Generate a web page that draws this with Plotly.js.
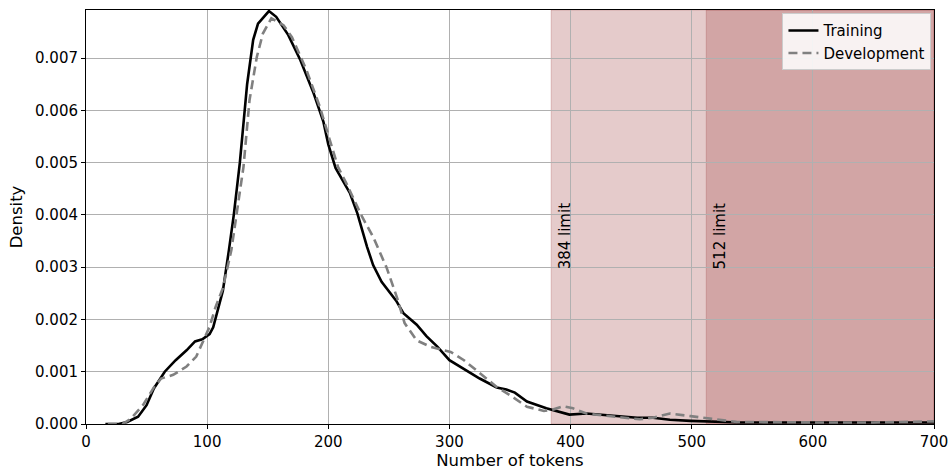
<!DOCTYPE html>
<html>
<head>
<meta charset="utf-8">
<script src="https://cdn.plot.ly/plotly-3.0.1.min.js"></script>
<style>html,body{margin:0;padding:0;background:#fff;}#chart{width:949px;height:471px;}</style>
</head>
<body>
<div id="chart"></div>
<script>
const trainTokens = [16,27,34,43,50,56,65,74,83,90,96,102,105,113,118,122,127,133,138,142,151,157,167,177,188,196,200,206,218,224,232,237,244,256,262,273,281,290,300,311,325,339,347,354,364,380,399,413,441,455,468,482,499,520,540,600,650,700];
const trainDensity = [0,0,0.00004,0.00014,0.00036,0.00068,0.00100,0.00122,0.00141,0.00158,0.00162,0.00172,0.00185,0.00255,0.00333,0.00400,0.00500,0.00650,0.00735,0.00766,0.00790,0.00779,0.00744,0.00696,0.00632,0.00578,0.00535,0.00490,0.00441,0.00403,0.00339,0.00304,0.00272,0.00236,0.00212,0.00190,0.00168,0.00148,0.00122,0.00106,0.00087,0.00070,0.00066,0.00060,0.00043,0.00030,0.00018,0.00020,0.00014,0.00012,0.00012,0.00008,0.00006,0.00004,0.00003,0.00003,0.00003,0.00003];

const devTokens = [18,30,37,47,56,62,72,83,91,96,102,107,113,120,124,130,135,141,146,153,163,170,182,193,201,208,215,228,237,248,257,263,273,284,295,301,312,325,339,350,364,378,386,394,402,413,441,457,468,482,499,521,537,600,650,700];
const devDensity = [0,0,0.0001,0.00036,0.0007,0.00087,0.00094,0.0011,0.00129,0.00154,0.00186,0.00224,0.00260,0.00333,0.00396,0.00492,0.0062,0.00702,0.00747,0.00776,0.00763,0.0074,0.00677,0.00607,0.00545,0.00492,0.0046,0.00396,0.00358,0.0030,0.0024,0.00193,0.0016,0.00148,0.00141,0.00138,0.00122,0.00097,0.00071,0.00055,0.00033,0.00025,0.00028,0.00034,0.0003,0.0002,0.00013,0.00009,0.00012,0.0002,0.00015,0.00008,0.00004,0.00003,0.00003,0.00005];

const xTicks = [0,100,200,300,400,500,600,700];
const yTicks = [0,0.001,0.002,0.003,0.004,0.005,0.006,0.007];
const limits = [384,512];
const limitLabels = ['384 limit','512 limit'];

const FAM = 'DejaVu Sans, sans-serif';
const traces = [
  {x:trainTokens, y:trainDensity, mode:'lines', name:'Training', line:{color:'#000', width:2.6}},
  {x:devTokens, y:devDensity, mode:'lines', name:'Development', line:{color:'#808080', width:2.6, dash:'9px,5px'}}
];
const shade = 'rgba(160,70,68,0.28)';
const shapes = limits.map(v => ({type:'rect', xref:'x', yref:'paper', x0:v, x1:700, y0:0, y1:1, fillcolor:shade, line:{color:shade, width:1}, layer:'between'}));
const annotations = limits.map((v,i) => ({x:v+11, y:0.00292, xref:'x', yref:'y', text:limitLabels[i], textangle:-90, showarrow:false, xanchor:'center', yanchor:'bottom', font:{family:FAM, size:15, color:'#000'}}));
const layout = {
  width:949, height:471,
  margin:{l:86, r:15, t:10, b:47},
  paper_bgcolor:'#fff', plot_bgcolor:'#fff',
  font:{family:FAM, size:15, color:'#000'},
  showlegend:true,
  legend:{x:0.997, y:0.992, xanchor:'right', yanchor:'top', bgcolor:'rgba(255,255,255,0.85)', bordercolor:'#cccccc', borderwidth:1, font:{family:FAM, size:15}, tracegroupgap:0},
  xaxis:{range:[0,700], tickvals:xTicks, ticktext:xTicks.map(String), tickfont:{family:FAM, size:15}, showgrid:true, gridcolor:'#b0b0b0', gridwidth:1, zeroline:false, showline:true, linecolor:'#000', linewidth:1, mirror:true, ticks:'outside', ticklen:4, tickcolor:'#000', title:{text:'Number of tokens', font:{family:FAM, size:16.5}, standoff:4}},
  yaxis:{range:[0,0.00792], tickvals:yTicks, ticktext:yTicks.map(v=>v.toFixed(3)), tickfont:{family:FAM, size:15}, showgrid:true, gridcolor:'#b0b0b0', gridwidth:1, zeroline:false, showline:true, linecolor:'#000', linewidth:1, mirror:true, ticks:'outside', ticklen:4, tickcolor:'#000', title:{text:'Density', font:{family:FAM, size:16.5}, standoff:8}},
  shapes:shapes,
  annotations:annotations
};
Plotly.newPlot('chart', traces, layout, {displayModeBar:false, staticPlot:true});
</script>
</body>
</html>
